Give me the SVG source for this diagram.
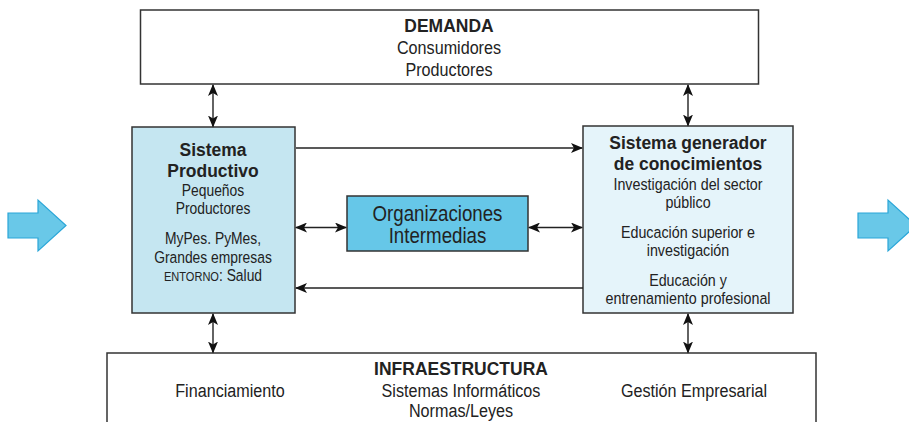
<svg xmlns="http://www.w3.org/2000/svg" width="909" height="422" viewBox="0 0 909 422">
<defs>
<style>
.box{stroke:#333;stroke-width:1.5}
.t{font-family:"Liberation Sans",Arial,sans-serif;fill:#222;text-anchor:middle;font-size:16.8px}
.b{font-weight:bold;font-size:19px}
.big{font-size:22px}
.m{font-size:19px}
.p{font-size:16.3px}
.sm{font-size:13px}
.c{stroke:#222;stroke-width:1.4;fill:none}
.blk{fill:#69c8e8;stroke:#2aa6d8;stroke-width:1.2}
</style>
<marker id="ah" viewBox="0 0 12 10" refX="11" refY="5" markerWidth="12" markerHeight="10" markerUnits="userSpaceOnUse" orient="auto-start-reverse">
<path d="M0,0 L12,5 L0,10 L3,5 z" fill="#111"/>
</marker>
</defs>
<rect width="909" height="422" fill="#fff"/>

<g id="arrow-left">
<path class="blk" d="M8,213 H38 V200 L66,225.5 L38,251 V238 H8 z"/>
</g>
<g id="arrow-right">
<path class="blk" d="M858,213 H888 V200 L916,225.5 L888,251 V238 H858 z"/>
</g>

<g id="demanda">
<rect class="box" x="140.5" y="10" width="618" height="74" fill="#fff"/>
<text class="t b" transform="translate(449,32) scale(0.92,1)">DEMANDA</text>
<text class="t m" transform="translate(449,54) scale(0.85,1)">Consumidores</text>
<text class="t m" transform="translate(449,76) scale(0.85,1)">Productores</text>
</g>

<g id="productivo">
<rect class="box" x="132" y="127" width="163" height="186" fill="#c5e6f1"/>
<text class="t b" transform="translate(213,155.5) scale(0.92,1)">Sistema</text>
<text class="t b" transform="translate(213,177) scale(0.92,1)">Productivo</text>
<text class="t p" transform="translate(213,196) scale(0.85,1)">Pequeños</text>
<text class="t p" transform="translate(213,214) scale(0.85,1)">Productores</text>
<text class="t p" transform="translate(213,244) scale(0.85,1)">MyPes. PyMes,</text>
<text class="t p" transform="translate(213,263) scale(0.85,1)">Grandes empresas</text>
<text class="t p" transform="translate(213,281) scale(0.85,1)"><tspan class="sm">ENTORNO</tspan>: Salud</text>
</g>

<g id="intermedias">
<rect class="box" x="347" y="196" width="181" height="55" fill="#66c7e8"/>
<text class="t big" transform="translate(437.5,221) scale(0.85,1)">Organizaciones</text>
<text class="t big" transform="translate(437.5,243) scale(0.85,1)">Intermedias</text>
</g>

<g id="generador">
<rect class="box" x="583" y="126" width="210" height="187" fill="#e5f4fa"/>
<text class="t b" transform="translate(688,148.5) scale(0.92,1)">Sistema generador</text>
<text class="t b" transform="translate(688,170) scale(0.92,1)">de conocimientos</text>
<text class="t" transform="translate(688,189.5) scale(0.85,1)">Investigación del sector</text>
<text class="t" transform="translate(688,208) scale(0.85,1)">público</text>
<text class="t" transform="translate(688,238) scale(0.85,1)">Educación superior e</text>
<text class="t" transform="translate(688,256) scale(0.85,1)">investigación</text>
<text class="t" transform="translate(688,286) scale(0.85,1)">Educación y</text>
<text class="t" transform="translate(688,304) scale(0.85,1)">entrenamiento profesional</text>
</g>

<g id="infraestructura">
<rect class="box" x="107" y="353" width="709" height="80" fill="#fff"/>
<text class="t b" transform="translate(461,375) scale(0.92,1)">INFRAESTRUCTURA</text>
<text class="t m" transform="translate(230,397) scale(0.85,1)">Financiamiento</text>
<text class="t m" transform="translate(461,397) scale(0.85,1)">Sistemas Informáticos</text>
<text class="t m" transform="translate(461,417) scale(0.85,1)">Normas/Leyes</text>
<text class="t m" transform="translate(694,397) scale(0.85,1)">Gestión Empresarial</text>
</g>

<g id="connectors">
<line class="c" x1="213" y1="85" x2="213" y2="126.5" marker-start="url(#ah)" marker-end="url(#ah)"/>
<line class="c" x1="688" y1="85" x2="688" y2="125.5" marker-start="url(#ah)" marker-end="url(#ah)"/>
<line class="c" x1="213" y1="314" x2="213" y2="352.5" marker-start="url(#ah)" marker-end="url(#ah)"/>
<line class="c" x1="688" y1="314" x2="688" y2="352.5" marker-start="url(#ah)" marker-end="url(#ah)"/>
<line class="c" x1="296" y1="148" x2="582" y2="148" marker-end="url(#ah)"/>
<line class="c" x1="583" y1="288" x2="296" y2="288" marker-end="url(#ah)"/>
<line class="c" x1="296" y1="227.5" x2="346" y2="227.5" marker-start="url(#ah)" marker-end="url(#ah)"/>
<line class="c" x1="529" y1="227.5" x2="582" y2="227.5" marker-start="url(#ah)" marker-end="url(#ah)"/>
</g>
</svg>
